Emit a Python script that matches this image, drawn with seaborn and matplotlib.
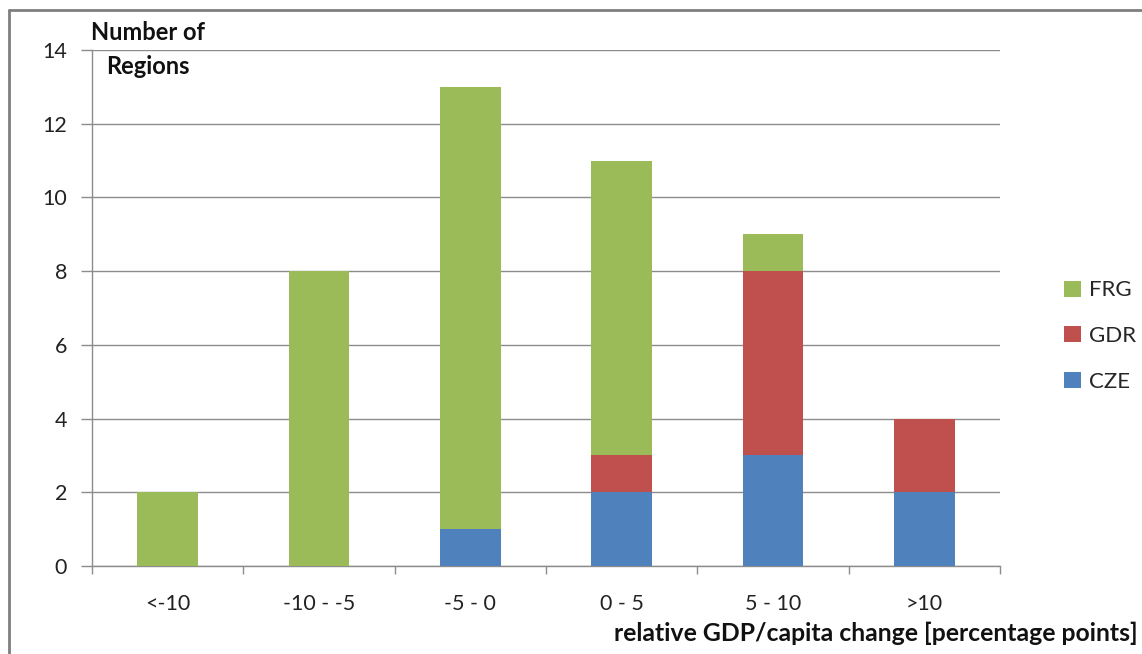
import matplotlib
matplotlib.use("Agg")
import matplotlib.pyplot as plt
from matplotlib.lines import Line2D
from matplotlib.patches import Patch
import numpy as np
import pandas as pd
import seaborn as sns

# Regions per class of relative GDP/capita change
categories = ["<-10", "-10 - -5", "-5 - 0", "0 - 5", "5 - 10", ">10"]
cze = [0, 0, 1, 2, 3, 2]
gdr = [0, 0, 0, 1, 5, 2]
frg = [2, 8, 12, 8, 1, 0]

colors = {"FRG": "#9BBB59", "GDR": "#C0504D", "CZE": "#4F81BD"}
grid_gray = "#8C8C8C"

sns.set_theme(style="white")
plt.rcParams["font.family"] = ["Lato", "DejaVu Sans"]

df = pd.DataFrame({"class": categories, "CZE": cze, "GDR": gdr, "FRG": frg})

fig = plt.figure(figsize=(11.42, 6.54), dpi=100)
ax = fig.add_axes([92 / 1142, 1 - 566 / 654, (1000 - 92) / 1142, (566 - 50) / 654])

# Stack CZE, then GDR, then FRG
bottom = np.zeros(len(categories))
for name in ["CZE", "GDR", "FRG"]:
    sns.barplot(data=df, x="class", y=name, order=categories, color=colors[name],
                width=0.4, bottom=bottom, ax=ax, saturation=1, linewidth=0, zorder=3)
    bottom = bottom + df[name].to_numpy()

ax.set_xlim(-0.5, len(categories) - 0.5)
ax.set_ylim(0, 14)
ax.set_yticks(range(0, 15, 2))
ax.yaxis.grid(True, color=grid_gray, linewidth=1.0, zorder=0)
ax.set_axisbelow(True)
ax.set_xlabel("")
ax.set_ylabel("")

for s in ["top", "right"]:
    ax.spines[s].set_visible(False)
for s in ["left", "bottom"]:
    ax.spines[s].set_color(grid_gray)
    ax.spines[s].set_linewidth(1.0)

ax.tick_params(axis="y", which="major", direction="out", length=8, width=1,
               color=grid_gray, pad=10, labelsize=15.5, labelcolor="#222222", left=True)
ax.tick_params(axis="x", which="major", length=0, pad=20, labelsize=15.5,
               labelcolor="#222222")
ax.set_xticks(np.arange(-0.5, len(categories), 1.0), minor=True)
ax.tick_params(axis="x", which="minor", direction="out", length=6, width=1,
               color=grid_gray, bottom=True)

# Axis titles
fig.text(91 / 1142, 1 - 32 / 654, "Number of", fontsize=17, fontweight="bold",
         ha="left", va="center", color="#111111")
fig.text(106 / 1142, 1 - 66 / 654, "Regions", fontsize=17, fontweight="bold",
         ha="left", va="center", color="#111111")
fig.text(1138 / 1142, 1 - 633 / 654, "relative GDP/capita change [percentage points]",
         fontsize=17.8, fontweight="bold", ha="right", va="center", color="#111111")

# Legend
handles = [Patch(facecolor=colors[n], edgecolor="none", label=n) for n in ["FRG", "GDR", "CZE"]]
fig.legend(handles=handles, loc="center left", bbox_to_anchor=(1053 / 1142, 1 - 336 / 654),
           frameon=False, fontsize=16, handlelength=0.75, handleheight=0.75,
           labelspacing=1.15, handletextpad=0.35, borderpad=0)

# Chart-area border
fig.add_artist(Line2D([9 / 1142, 1.0], [1 - 10 / 654, 1 - 10 / 654], color="#7F7F7F",
                      linewidth=2, transform=fig.transFigure))
fig.add_artist(Line2D([9 / 1142, 9 / 1142], [0, 1 - 10 / 654], color="#7F7F7F",
                      linewidth=2, transform=fig.transFigure))

fig.savefig("out.png", dpi=100, facecolor="white")
